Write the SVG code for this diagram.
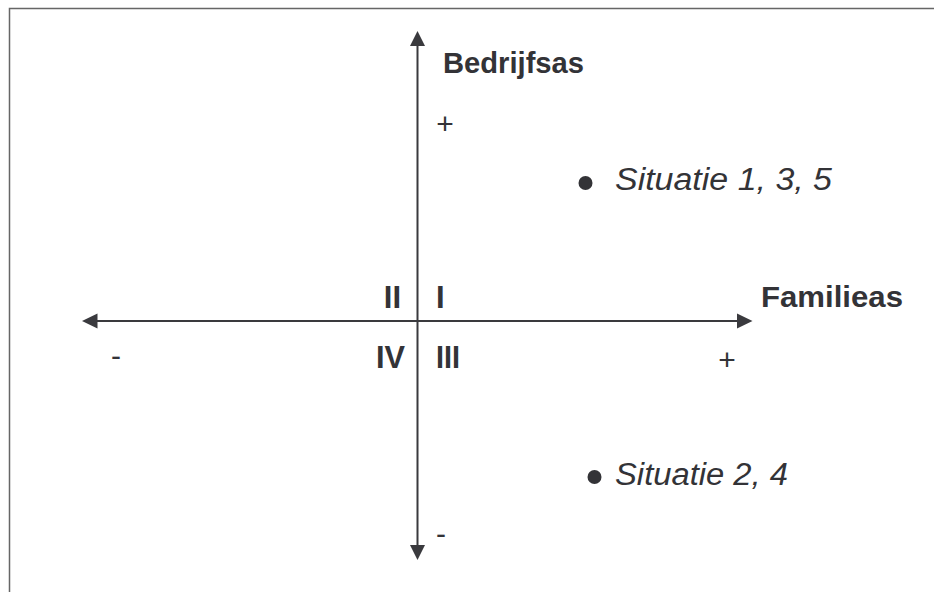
<svg xmlns="http://www.w3.org/2000/svg" width="934" height="592" viewBox="0 0 934 592">
<style>
.ax{stroke:#3a3a3e;stroke-width:2;fill:none}
.head{fill:#3a3a3e}
.lbl{font-family:"Liberation Sans",Arial,sans-serif;font-weight:bold;fill:#333337}
.num{font-family:"Liberation Sans",Arial,sans-serif;font-weight:bold;font-size:31px;fill:#333337}
.sign{font-family:"Liberation Sans",Arial,sans-serif;font-size:30px;fill:#333337}
.sit{font-family:"Liberation Sans",Arial,sans-serif;font-style:italic;font-size:31px;fill:#333337}
</style>
<rect width="934" height="592" fill="#ffffff"/>
<path d="M9.5,592 V8.5 H934" fill="none" stroke="#666" stroke-width="1.5"/>
<g id="connectors">
<line class="ax" x1="417.5" y1="44" x2="417.5" y2="547"/>
<polygon class="head" points="417.5,31 410,46 425,46"/>
<polygon class="head" points="417.5,560 410,545 425,545"/>
<line class="ax" x1="95" y1="321" x2="740" y2="321"/>
<polygon class="head" points="82,321 97.5,313.5 97.5,328.5"/>
<polygon class="head" points="752.5,321 737,313.5 737,328.5"/>
</g>
<g id="bedrijfsas"><text class="lbl" x="443" y="73" font-size="29" textLength="141" lengthAdjust="spacingAndGlyphs">Bedrijfsas</text></g>
<g id="familieas"><text class="lbl" x="761" y="307" font-size="29" textLength="142" lengthAdjust="spacingAndGlyphs">Familieas</text></g>
<g id="quadrants">
<text class="num" x="401" y="308" text-anchor="end">II</text>
<text class="num" x="436" y="308">I</text>
<text class="num" x="405" y="368" text-anchor="end" textLength="29" lengthAdjust="spacingAndGlyphs">IV</text>
<text class="num" x="436" y="368" textLength="24" lengthAdjust="spacingAndGlyphs">III</text>
</g>
<g id="signs">
<text class="sign" x="445" y="134" text-anchor="middle">+</text>
<text class="sign" x="727" y="370" text-anchor="middle">+</text>
<text class="sign" x="116" y="366" text-anchor="middle">-</text>
<text class="sign" x="441" y="544" text-anchor="middle">-</text>
</g>
<g id="situatie135">
<circle cx="585.5" cy="183" r="7" fill="#333337"/>
<text class="sit" x="615" y="190" textLength="217" lengthAdjust="spacingAndGlyphs">Situatie 1, 3, 5</text>
</g>
<g id="situatie24">
<circle cx="594.5" cy="477" r="7" fill="#333337"/>
<text class="sit" x="615" y="485" textLength="173" lengthAdjust="spacingAndGlyphs">Situatie 2, 4</text>
</g>
</svg>
